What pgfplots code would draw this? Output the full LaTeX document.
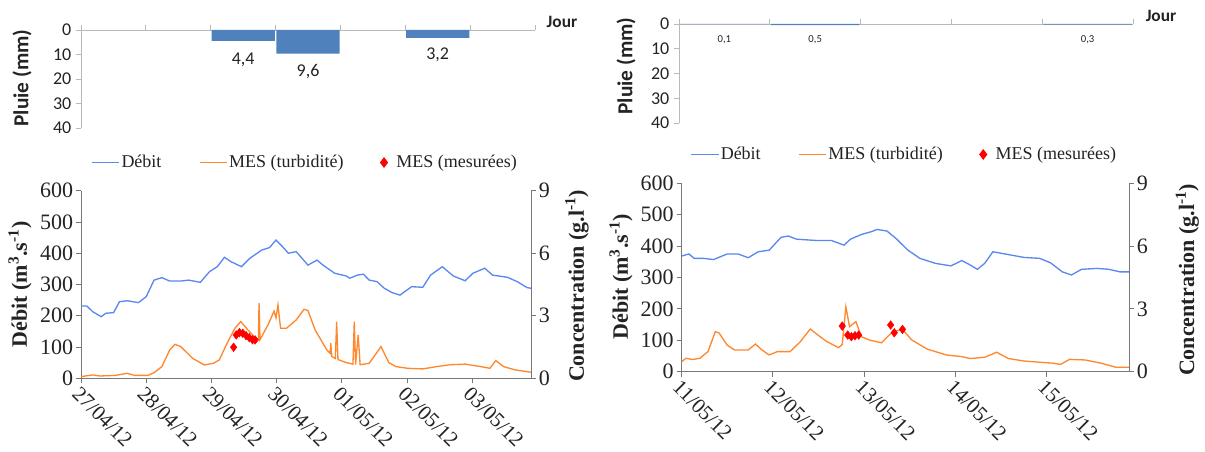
\documentclass[border=0pt]{standalone}
\usepackage{fontspec}
\setmainfont{Liberation Serif}
\newfontfamily\calibri{Carlito}
\newfontfamily\timesf{Liberation Serif}
\usepackage{pgfplots}
\usepackage{pgfplotstable}
\pgfplotsset{compat=1.18}
\definecolor{qblue}{RGB}{90,135,240}
\definecolor{barblue}{RGB}{79,129,189}
\definecolor{morange}{RGB}{255,135,45}
\definecolor{axgray}{RGB}{120,120,120}
\definecolor{raingray}{RGB}{185,185,185}
\definecolor{txt}{RGB}{35,35,35}

\pgfplotstableread{
d q
0 231
0.09 231
0.18 213
0.31 197
0.38 208
0.5 210
0.59 245
0.71 248
0.88 242
1.0 261
1.12 314
1.24 322
1.36 311
1.53 311
1.65 314
1.83 307
1.97 341
2.09 357
2.2 387
2.3 373
2.46 357
2.59 384
2.77 410
2.89 418
2.99 442
3.09 421
3.18 400
3.3 405
3.48 362
3.62 378
3.71 362
3.89 336
4.07 327
4.12 320
4.24 330
4.33 333
4.42 314
4.54 309
4.65 288
4.77 274
4.89 266
5.07 293
5.24 291
5.36 330
5.54 357
5.71 327
5.89 312
6.01 336
6.19 352
6.31 330
6.54 323
6.69 309
6.84 290
6.9 288
}\qA

\pgfplotstableread{
d c
0 0.08
0.18 0.16
0.29 0.11
0.53 0.14
0.71 0.24
0.82 0.14
1.03 0.14
1.12 0.27
1.24 0.56
1.36 1.36
1.44 1.63
1.53 1.52
1.71 0.96
1.89 0.64
2.03 0.72
2.12 0.88
2.24 1.68
2.36 2.4
2.45 2.72
2.56 2.32
2.68 1.92
2.72 1.85
2.73 3.6
2.745 1.85
2.88 2.64
2.96 3.23
2.99 2.9
3.02 3.52
3.06 2.4
3.15 2.4
3.3 2.8
3.42 3.31
3.48 3.25
3.59 2.32
3.77 1.36
3.82 1.2
3.83 1.68
3.845 1.05
3.9 0.95
3.92 2.72
3.94 0.9
4.07 0.75
4.17 0.68
4.19 2.72
4.21 0.66
4.25 2.08
4.28 0.65
4.42 0.72
4.6 1.52
4.65 1.2
4.72 0.75
4.83 0.56
5.01 0.48
5.24 0.45
5.45 0.56
5.66 0.65
5.89 0.68
6.13 0.56
6.27 0.48
6.36 0.85
6.48 0.56
6.66 0.4
6.9 0.29
}\cA

\pgfplotstableread{
d c
2.34 1.49
2.38 2.08
2.43 2.19
2.48 2.16
2.53 2.05
2.58 1.95
2.63 1.85
2.67 1.84
}\mA

\pgfplotstableread{
d q
0 368
0.08 375
0.14 361
0.24 361
0.35 357
0.5 375
0.62 375
0.73 363
0.84 382
0.96 387
1.09 428
1.17 432
1.26 422
1.47 418
1.64 418
1.78 403
1.85 422
1.97 437
2.08 446
2.14 453
2.25 448
2.35 424
2.48 387
2.61 361
2.78 345
2.95 337
3.07 354
3.16 340
3.24 326
3.32 345
3.41 382
3.54 375
3.75 364
3.92 361
4.04 347
4.17 318
4.27 308
4.38 326
4.55 329
4.68 326
4.8 318
4.9 318
}\qB

\pgfplotstableread{
d c
0 0.48
0.05 0.64
0.12 0.58
0.2 0.64
0.29 0.96
0.37 1.91
0.41 1.86
0.5 1.27
0.58 1.04
0.73 1.04
0.81 1.32
0.88 1.04
0.96 0.8
1.05 0.96
1.19 0.96
1.3 1.43
1.41 2.04
1.47 1.83
1.59 1.44
1.72 1.15
1.76 1.3
1.8 3.1
1.84 2.15
1.91 2.39
1.97 1.67
2.06 1.51
2.19 1.38
2.31 1.91
2.42 2.02
2.52 1.52
2.69 1.08
2.9 0.8
3.07 0.72
3.16 0.63
3.32 0.69
3.45 0.93
3.58 0.63
3.75 0.51
3.96 0.44
4.06 0.41
4.15 0.35
4.25 0.59
4.42 0.56
4.59 0.41
4.76 0.21
4.9 0.21
}\cB

\pgfplotstableread{
d c
1.76 2.18
1.82 1.75
1.86 1.67
1.90 1.72
1.94 1.75
2.29 2.23
2.33 1.86
2.42 2.02
}\mB

\pgfplotsset{
  every axis/.append style={scale only axis, tick align=outside,
    /pgf/number format/assume math mode=true},
  mainax/.style={axis x line*=bottom, axis y line*=left,
    axis line style={-,draw=axgray}, xmin=0, ymin=0, ymax=600,
    ytick={0,100,...,600}, xtick={0,...,6}, major tick length=3.75pt,
    tick style={draw=axgray, line width=0.6pt},
    y tick label style={font=\timesf\fontsize{16.5}{18}\selectfont, text=txt, inner sep=2pt},
    x tick label style={rotate=-45, anchor=north west,
      font=\timesf\fontsize{15.75}{17}\selectfont, text=txt, inner sep=1pt},
    legend columns=3,
    legend style={draw=none, fill=none, at={(0.497,1.15)}, anchor=center,
      font=\timesf\fontsize{13.5}{15}\selectfont, text=txt,
      nodes={inner xsep=1pt},
      /tikz/every even column/.append style={column sep=27pt}},
    legend image post style={line width=1.3pt},
    legend image code/.code={\draw[mark repeat=2,mark phase=2,##1]
      plot coordinates {(0cm,0cm) (0.36cm,0cm) (0.72cm,0cm)};}},
  concax/.style={axis y line*=right, axis x line=none,
    axis line style={-,draw=axgray}, xmin=0, ymin=0, ymax=9,
    ytick={0,3,6,9}, major tick length=3.75pt,
    tick style={draw=axgray, line width=0.6pt},
    y tick label style={font=\timesf\fontsize{16.5}{18}\selectfont, text=txt, inner sep=2pt}},
  rainax/.style={axis x line*=top, axis y line*=left,
    axis line style={-,draw=raingray}, tick style={draw=raingray, line width=0.6pt},
    ymin=-40, ymax=0, ytick={-40,-30,...,0}, yticklabels={40,30,20,10,0},
    major tick length=3.75pt, xticklabels={},
    y tick label style={font=\calibri\fontsize{13.5}{15}\selectfont, text=txt}},
}

\begin{document}
\begin{tikzpicture}
\path[use as bounding box] (0,0) rectangle (903.75pt,339pt);

% ---------------- Left panel ----------------
\begin{axis}[rainax, at={(60.75pt,243pt)}, anchor=south west,
  width=340.5pt, height=73.5pt, xmin=0, xmax=7, xtick={0,...,7}]
\addplot[ybar, bar width=0.975, bar shift=0pt, fill=barblue, draw=none]
  coordinates {(2.5,-4.4) (3.5,-9.6) (5.5,-3.2)};
\node[font=\calibri\fontsize{13.5}{15}\selectfont, text=txt] at (axis cs:2.5,-12.2) {4,4};
\node[font=\calibri\fontsize{13.5}{15}\selectfont, text=txt] at (axis cs:3.5,-17.1) {9,6};
\node[font=\calibri\fontsize{13.5}{15}\selectfont, text=txt] at (axis cs:5.5,-10.2) {3,2};
\end{axis}

\begin{axis}[mainax, at={(60.75pt,55.275pt)}, anchor=south west,
  width=337.5pt, height=140.7pt, xmax=6.9,
  xticklabels={27/04/12,28/04/12,29/04/12,30/04/12,01/05/12,02/05/12,03/05/12}]
\addplot[qblue, line width=1pt] table[x=d,y=q]{\qA};
\addlegendentry{Débit}
\addlegendimage{morange, line width=1pt}
\addlegendentry{MES (turbidité)\hspace{9pt}}
\addlegendimage{only marks, mark=diamond*, mark size=3pt, red}
\addlegendentry{\hspace{6pt}MES (mesurées)}
\end{axis}
\begin{axis}[concax, at={(60.75pt,55.275pt)}, anchor=south west,
  width=337.5pt, height=140.7pt, xmax=6.9]
\addplot[morange, line width=1pt] table[x=d,y=c]{\cA};
\addplot[only marks, mark=diamond*, mark size=3.2pt, red] table[x=d,y=c]{\mA};
\end{axis}

% ---------------- Right panel ----------------
\begin{axis}[rainax, at={(509.25pt,246.75pt)}, anchor=south west,
  width=340.5pt, height=74.25pt, xmin=0, xmax=5, xtick={0,...,5}]
\addplot[ybar, bar width=0.975, bar shift=0pt, fill=barblue, draw=none]
  coordinates {(0.5,-0.1) (1.5,-0.5) (4.5,-0.3)};
\node[font=\calibri\fontsize{8}{9}\selectfont, text=txt] at (axis cs:0.5,-6.5) {0,1};
\node[font=\calibri\fontsize{8}{9}\selectfont, text=txt] at (axis cs:1.5,-6.5) {0,5};
\node[font=\calibri\fontsize{8}{9}\selectfont, text=txt] at (axis cs:4.5,-6.5) {0,3};
\end{axis}

\begin{axis}[mainax, at={(511.125pt,60.225pt)}, anchor=south west,
  width=335.6pt, height=141.3pt, xmax=4.9, xtick={0,...,4},
  legend style={at={(0.497,1.153)}},
  xticklabels={11/05/12,12/05/12,13/05/12,14/05/12,15/05/12}]
\addplot[qblue, line width=1pt] table[x=d,y=q]{\qB};
\addlegendentry{Débit}
\addlegendimage{morange, line width=1pt}
\addlegendentry{MES (turbidité)\hspace{9pt}}
\addlegendimage{only marks, mark=diamond*, mark size=3pt, red}
\addlegendentry{\hspace{6pt}MES (mesurées)}
\end{axis}
\begin{axis}[concax, at={(511.125pt,60.225pt)}, anchor=south west,
  width=335.6pt, height=141.3pt, xmax=4.9]
\addplot[morange, line width=1pt] table[x=d,y=c]{\cB};
\addplot[only marks, mark=diamond*, mark size=3.2pt, red] table[x=d,y=c]{\mB};
\end{axis}

% ---------------- Labels ----------------
\node[font=\calibri\bfseries\fontsize{13}{14}\selectfont, text=txt] at (421.5pt,322.5pt) {Jour};
\node[font=\calibri\bfseries\fontsize{13}{14}\selectfont, text=txt] at (870.75pt,327pt) {Jour};
\node[rotate=90, font=\calibri\bfseries\fontsize{16}{17}\selectfont, text=txt] at (16.5pt,280.5pt) {Pluie (mm)};
\node[rotate=90, font=\calibri\bfseries\fontsize{16}{17}\selectfont, text=txt] at (469.5pt,289.5pt) {Pluie (mm)};
\node[rotate=90, font=\timesf\bfseries\fontsize{16.5}{18}\selectfont, text=txt] at (15pt,125.6pt) {Débit (m\textsuperscript{3}.s\textsuperscript{-1})};
\node[rotate=90, font=\timesf\bfseries\fontsize{16.5}{18}\selectfont, text=txt] at (465.75pt,131.5pt) {Débit (m\textsuperscript{3}.s\textsuperscript{-1})};
\node[rotate=90, font=\timesf\bfseries\fontsize{16.5}{18}\selectfont, text=txt] at (432.75pt,124.5pt) {Concentration (g.l\textsuperscript{-1})};
\node[rotate=90, font=\timesf\bfseries\fontsize{16.5}{18}\selectfont, text=txt] at (890.5pt,129pt) {Concentration (g.l\textsuperscript{-1})};
\end{tikzpicture}
\end{document}
